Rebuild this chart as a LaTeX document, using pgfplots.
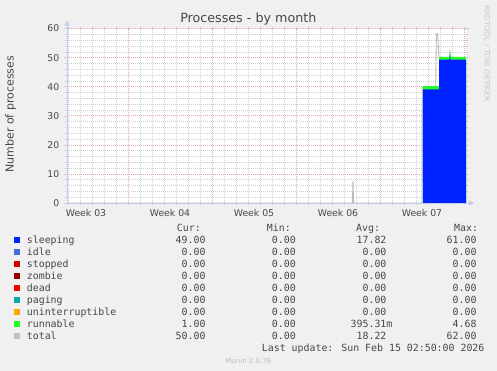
\documentclass[border=0pt]{standalone}
\usepackage{fontspec}
\setmainfont{DejaVu Sans}
\newfontfamily\monofont{DejaVu Sans Mono}
\usepackage{pgfplots}
\pgfplotsset{compat=1.18}
\usetikzlibrary{arrows.meta}
\definecolor{bgc}{HTML}{F0F0F0}
\definecolor{txt}{HTML}{474747}
\definecolor{gridred}{HTML}{E8A8A8}
\definecolor{gridgray}{HTML}{D0D0D0}
\definecolor{axisc}{HTML}{C4CAF0}
\definecolor{csleeping}{HTML}{0022FF}
\definecolor{cidle}{HTML}{4169E1}
\definecolor{cstopped}{HTML}{CC0000}
\definecolor{czombie}{HTML}{990000}
\definecolor{cdead}{HTML}{FF0000}
\definecolor{cpaging}{HTML}{00AAAA}
\definecolor{cunint}{HTML}{FFA500}
\definecolor{crunnable}{HTML}{22FF22}
\definecolor{ctotal}{HTML}{C0C0C0}
\newcommand{\legfont}{\monofont\fontsize{9.9}{11}\selectfont\color{txt}}
% #1 baseline (px from top), #2 colour, #3 name, #4 cur, #5 min, #6 avg, #7 max
\newcommand{\legrow}[7]{%
  \fill[#2] (14,{371-#1+0.6}) rectangle (20,{371-#1+6.2});
  \node[anchor=base west, inner sep=0] at (26.7,{371-#1}) {\legfont #3};
  \node[anchor=base east, inner sep=0] at (205.7,{371-#1}) {\legfont #4};
  \node[anchor=base east, inner sep=0] at (296,{371-#1}) {\legfont #5};
  \node[anchor=base east, inner sep=0] at (392.6,{371-#1}) {\legfont #6};
  \node[anchor=base east, inner sep=0] at (476.7,{371-#1}) {\legfont #7};
}
\begin{document}
\begin{tikzpicture}[x=1pt,y=1pt]
\fill[bgc] (0,0) rectangle (497,371);
\begin{axis}[
  at={(67pt,168pt)}, anchor=south west,
  scale only axis, width=399pt, height=174.4pt,
  xmin=-5.0833, xmax=28.1667, ymin=0, ymax=60,
  axis line style={draw=none},
  axis background/.style={fill=white},
  tick align=outside,
  major tick length=3pt, minor tick length=2pt,
  tick style={color=gridgray, line width=0.5pt},
  xtick={-3.5,3.5,10.5,17.5,24.5},
  xticklabels={Week 03,Week 04,Week 05,Week 06,Week 07},
  major x tick style={draw=none},
  minor xtick={-5,-4,...,28},
  xminorgrids=true,
  extra x ticks={0,7,14,21,28},
  extra x tick labels={},
  extra x tick style={grid=major, major tick length=3pt, tick style={color=gridred}},
  ytick={0,10,...,60},
  minor y tick num=4,
  ymajorgrids=true, yminorgrids=true,
  major grid style={color=gridred, line width=0.6pt, dash pattern=on 1pt off 1pt},
  minor grid style={color=gridgray, line width=0.6pt, dash pattern=on 1pt off 1pt},
  /pgf/number format/assume math mode=true,
  ticklabel style={font=\fontsize{9.3}{10}\selectfont, text=txt},
  yticklabel style={xshift=-1.2pt},
  after end axis/.code={
    \draw[axisc, line width=0.8pt, -{Triangle[length=5pt,width=5pt]}] (rel axis cs:0,0) -- ([yshift=8pt]rel axis cs:0,1);
    \draw[axisc, line width=0.8pt, -{Triangle[length=5pt,width=5pt]}] (rel axis cs:0,0) -- ([xshift=8pt]rel axis cs:1,0);
  },
]
% total (line)
\addplot[color=ctotal!90!gray, line width=0.9pt] coordinates {
(-5.0833,0) (18.70,0) (18.75,7.7) (18.80,0) (24.50,0) (24.52,40) (25.64,40)
(25.70,58.2) (25.80,58.2) (25.92,50) (26.78,50) (26.83,52.1) (26.90,50) (28.1667,50)};
% sleeping + runnable (stacked top)
\addplot[fill=crunnable, draw=none] coordinates {
(24.58,0) (24.58,40.2) (25.92,40.2) (25.92,50.3) (26.78,50.3) (26.83,52) (26.88,50.3) (28.1667,50.3)} \closedcycle;
% sleeping
\addplot[fill=csleeping, draw=none] coordinates {
(24.58,0) (24.58,39.1) (25.92,39.1) (25.92,49.3) (26.78,49.3) (26.83,50.9) (26.88,49.3) (28.1667,49.3)} \closedcycle;
\end{axis}
% title
\node[anchor=base, inner sep=0, text=txt, font=\fontsize{12.7}{14}\selectfont] at (248.3,348) {Processes - by month};
% y label
\node[rotate=90, inner sep=0, text=txt, font=\fontsize{11}{12}\selectfont] at (10.7,256.8) {Number of processes};
% watermark
\node[rotate=-90, inner sep=0, text={rgb,255:red,200;green,200;blue,200}, font=\fontsize{7.5}{8}\selectfont] at (487,317.6) {RRDTOOL / TOBI OETIKER};
% legend header
\node[anchor=base west, inner sep=0] at (176.7,{371-231.3}) {\legfont Cur:};
\node[anchor=base west, inner sep=0] at (266.7,{371-231.3}) {\legfont Min:};
\node[anchor=base west, inner sep=0] at (356,{371-231.3}) {\legfont Avg:};
\node[anchor=base west, inner sep=0] at (454,{371-231.3}) {\legfont Max:};
\legrow{243.3}{csleeping}{sleeping}{49.00}{0.00}{17.82\hphantom{m}}{61.00}
\legrow{255.3}{cidle}{idle}{0.00}{0.00}{0.00\hphantom{m}}{0.00}
\legrow{267.3}{cstopped}{stopped}{0.00}{0.00}{0.00\hphantom{m}}{0.00}
\legrow{279.3}{czombie}{zombie}{0.00}{0.00}{0.00\hphantom{m}}{0.00}
\legrow{291.3}{cdead}{dead}{0.00}{0.00}{0.00\hphantom{m}}{0.00}
\legrow{303.3}{cpaging}{paging}{0.00}{0.00}{0.00\hphantom{m}}{0.00}
\legrow{315.3}{cunint}{uninterruptible}{0.00}{0.00}{0.00\hphantom{m}}{0.00}
\legrow{327.3}{crunnable}{runnable}{1.00}{0.00}{395.31m}{4.68}
\legrow{339.3}{ctotal}{total}{50.00}{0.00}{18.22\hphantom{m}}{62.00}
\node[anchor=base west, inner sep=0] at (261.7,{371-351.3}) {\legfont Last update: Sun Feb 15 02:50:00 2026};
\node[inner sep=0, text={rgb,255:red,190;green,190;blue,190}, font=\fontsize{7}{8}\selectfont] at (248.3,{371-361}) {Munin 2.0.76};
\pgfresetboundingbox
\useasboundingbox (0,0) rectangle (497,371);
\end{tikzpicture}
\end{document}
